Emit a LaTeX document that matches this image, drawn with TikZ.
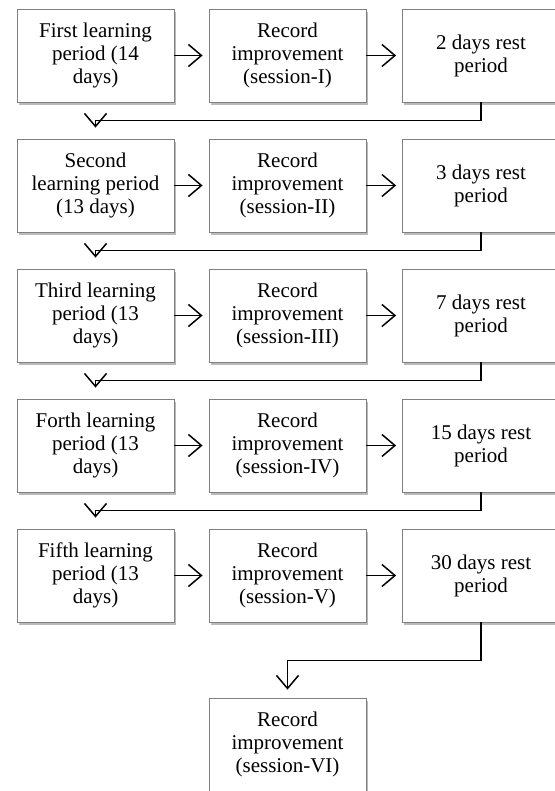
\documentclass[tikz,border=0pt]{standalone}
\usepackage{fontspec}
\setmainfont{Liberation Serif}
\usetikzlibrary{arrows.meta,shadows}

\begin{document}
\begin{tikzpicture}[
    x=1pt, y=-1pt,
    stage/.style={
        rectangle, draw=black!50, line width=0.8pt, fill=white,
        minimum width=157pt, minimum height=93pt, inner sep=2pt,
        align=center, font=\fontsize{21}{23}\selectfont,
        drop shadow={opacity=0.45, fill=black!60, shadow xshift=1.8pt, shadow yshift=-3pt}
    },
    flow/.style={line width=1.5pt, -{Straight Barb[length=13pt,width=22pt,line width=1.5pt]}},
    nextRow/.style={flow, shorten >=11pt}
]
    \useasboundingbox (0,0) rectangle (554,791);

    % --- 1. First round ---
    \node[stage] (learnA) at (95.5, 55.5) {First learning\\period (14\\days)};
    \node[stage] (recA)   at (287.5, 55.5) {Record\\improvement\\(session-I)};
    \node[stage] (restA)  at (481, 55.5) {2 days rest\\period};

    % --- 2. Second round ---
    \node[stage] (learnB) at (95.5, 185.5) {Second\\learning period\\(13 days)};
    \node[stage] (recB)   at (287.5, 185.5) {Record\\improvement\\(session-II)};
    \node[stage] (restB)  at (481, 185.5) {3 days rest\\period};

    % --- 3. Third round ---
    \node[stage] (learnC) at (95.5, 315.5) {Third learning\\period (13\\days)};
    \node[stage] (recC)   at (287.5, 315.5) {Record\\improvement\\(session-III)};
    \node[stage] (restC)  at (481, 315.5) {7 days rest\\period};

    % --- 4. Forth round ---
    \node[stage] (learnD) at (95.5, 445.5) {Forth learning\\period (13\\days)};
    \node[stage] (recD)   at (287.5, 445.5) {Record\\improvement\\(session-IV)};
    \node[stage] (restD)  at (481, 445.5) {15 days rest\\period};

    % --- 5. Fifth round ---
    \node[stage] (learnE) at (95.5, 575.5) {Fifth learning\\period (13\\days)};
    \node[stage] (recE)   at (287.5, 575.5) {Record\\improvement\\(session-V)};
    \node[stage] (restE)  at (481, 575.5) {30 days rest\\period};

    % --- 6. Final record ---
    \node[stage] (recF) at (287.5, 744.5) {Record\\improvement\\(session-VI)};

    % arrows inside each row
    \draw[flow, shorten >=6pt] (learnA) -- (recA);
    \draw[flow, shorten >=6pt] (recA) -- (restA);
    \draw[flow, shorten >=6pt] (learnB) -- (recB);
    \draw[flow, shorten >=6pt] (recB) -- (restB);
    \draw[flow, shorten >=6pt] (learnC) -- (recC);
    \draw[flow, shorten >=6pt] (recC) -- (restC);
    \draw[flow, shorten >=6pt] (learnD) -- (recD);
    \draw[flow, shorten >=6pt] (recD) -- (restD);
    \draw[flow, shorten >=6pt] (learnE) -- (recE);
    \draw[flow, shorten >=6pt] (recE) -- (restE);

    % back to the next row
    \draw[nextRow] (restA.south) -- ++(0,18) -| (learnB.north);
    \draw[nextRow] (restB.south) -- ++(0,18) -| (learnC.north);
    \draw[nextRow] (restC.south) -- ++(0,18) -| (learnD.north);
    \draw[nextRow] (restD.south) -- ++(0,18) -| (learnE.north);
    \draw[flow, shorten >=8pt] (restE.south) -- ++(0,38) -| (recF.north);
\end{tikzpicture}
\end{document}
